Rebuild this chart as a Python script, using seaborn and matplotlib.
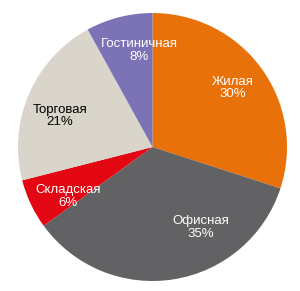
import matplotlib
matplotlib.use("Agg")
import matplotlib.pyplot as plt
import seaborn as sns

categories = ["Жилая", "Офисная", "Складская", "Торговая", "Гостиничная"]
values = [30, 35, 6, 21, 8]
colors = ["#E8710A", "#626265", "#E30613", "#D9D5CB", "#7B73B5"]
text_colors = ["white", "white", "white", "black", "white"]
label_pos = [(0.60, 0.44), (0.36, -0.60), (-0.63, -0.37), (-0.69, 0.23), (-0.10, 0.72)]

sns.set_style("white")
plt.rcParams["font.family"] = ["Liberation Sans", "DejaVu Sans"]

fig = plt.figure(figsize=(3.0, 2.91), dpi=100)
ax = fig.add_axes([18 / 300, 10 / 291, 269 / 300, 268 / 291])
palette = sns.color_palette(colors)
ax.pie(values, colors=palette, startangle=90, counterclock=False,
       radius=1.0, wedgeprops=dict(linewidth=0))
for cat, v, (x, y), tc in zip(categories, values, label_pos, text_colors):
    ax.text(x, y, f"{cat}\n{v}%", ha="center", va="center", fontsize=9.5,
            color=tc, linespacing=1.05)
ax.set_xlim(-1, 1)
ax.set_ylim(-1, 1)
ax.set_aspect("auto")
ax.axis("off")
fig.savefig("out.png", dpi=100)
